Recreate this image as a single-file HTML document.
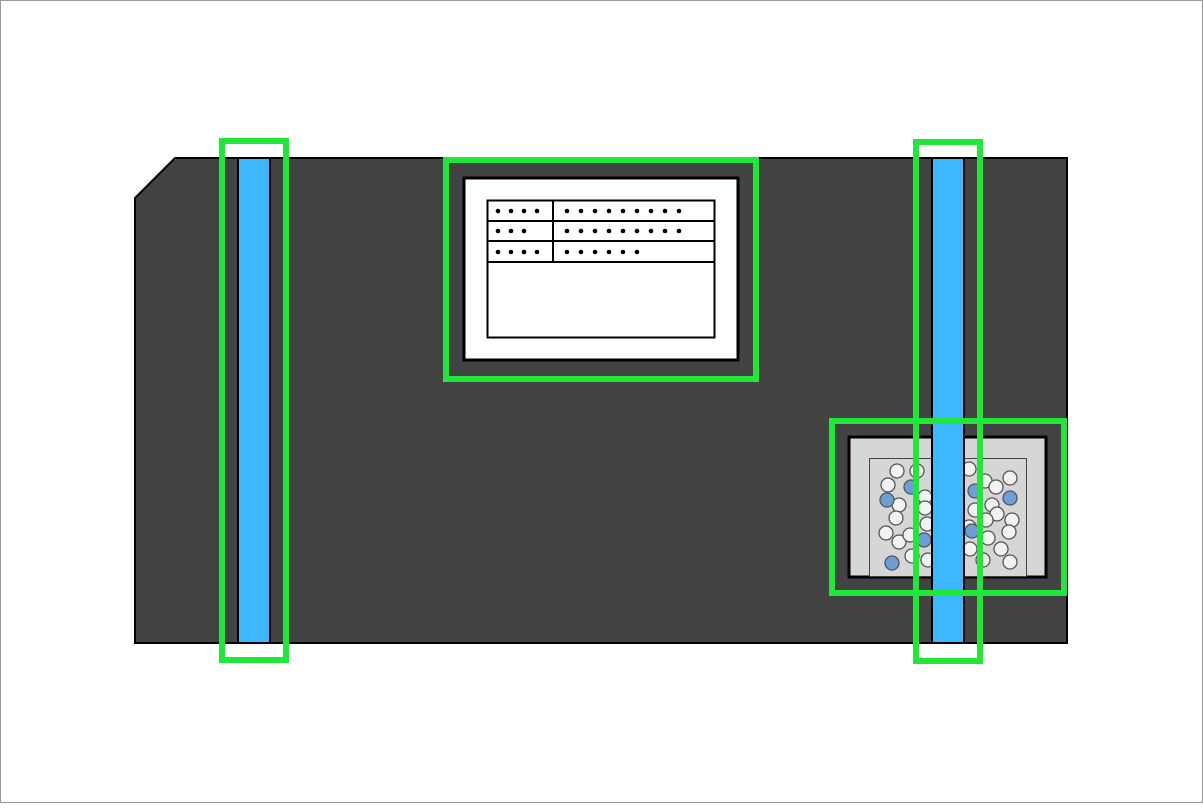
<!DOCTYPE html><html><head><style>body{margin:0;background:#fff}</style></head><body>
<svg width="1203" height="803" viewBox="0 0 1203 803" xmlns="http://www.w3.org/2000/svg">
<rect x="0.5" y="0.5" width="1202" height="802" fill="#fff" stroke="#999"/>
<path d="M175 158 H1067 V643 H135 V198 Z" fill="#434343" stroke="#000" stroke-width="2"/>
<rect x="238" y="158" width="32" height="485" fill="#3db8ff" stroke="#000" stroke-width="2"/>
<rect x="464" y="178" width="274" height="182" fill="#fff" stroke="#000" stroke-width="3"/>
<rect x="487.5" y="200.5" width="227" height="137" fill="#fff" stroke="#000" stroke-width="2"/>
<g stroke="#000" stroke-width="2"><line x1="487" y1="221" x2="714" y2="221"/><line x1="487" y1="241" x2="714" y2="241"/><line x1="487" y1="262" x2="714" y2="262"/><line x1="553" y1="200" x2="553" y2="262"/></g>
<g fill="#000">
<circle cx="498" cy="211" r="2.3"/><circle cx="511" cy="211" r="2.3"/><circle cx="524" cy="211" r="2.3"/><circle cx="537" cy="211" r="2.3"/>
<circle cx="498" cy="231" r="2.3"/><circle cx="511" cy="231" r="2.3"/><circle cx="524" cy="231" r="2.3"/>
<circle cx="498" cy="252" r="2.3"/><circle cx="511" cy="252" r="2.3"/><circle cx="524" cy="252" r="2.3"/><circle cx="537" cy="252" r="2.3"/>
<circle cx="567" cy="211" r="2.3"/><circle cx="581" cy="211" r="2.3"/><circle cx="595" cy="211" r="2.3"/><circle cx="609" cy="211" r="2.3"/><circle cx="623" cy="211" r="2.3"/><circle cx="637" cy="211" r="2.3"/><circle cx="651" cy="211" r="2.3"/><circle cx="665" cy="211" r="2.3"/><circle cx="679" cy="211" r="2.3"/>
<circle cx="567" cy="231" r="2.3"/><circle cx="581" cy="231" r="2.3"/><circle cx="595" cy="231" r="2.3"/><circle cx="609" cy="231" r="2.3"/><circle cx="623" cy="231" r="2.3"/><circle cx="637" cy="231" r="2.3"/><circle cx="651" cy="231" r="2.3"/><circle cx="665" cy="231" r="2.3"/><circle cx="679" cy="231" r="2.3"/>
<circle cx="567" cy="252" r="2.3"/><circle cx="581" cy="252" r="2.3"/><circle cx="595" cy="252" r="2.3"/><circle cx="609" cy="252" r="2.3"/><circle cx="623" cy="252" r="2.3"/><circle cx="637" cy="252" r="2.3"/>
</g>
<rect x="849" y="437" width="197" height="140" fill="#d6d6d6" stroke="#000" stroke-width="3"/>
<rect x="869.5" y="458.5" width="157" height="118" fill="#d6d6d6" stroke="#444" stroke-width="1"/>
<g stroke="#555" stroke-width="1.3" fill="#f2f2f2">
<circle cx="897" cy="471" r="7"/><circle cx="917" cy="471" r="7"/><circle cx="888" cy="485" r="7"/><circle cx="899" cy="505" r="7"/><circle cx="896" cy="518" r="7"/><circle cx="886" cy="533" r="7"/><circle cx="899" cy="542" r="7"/><circle cx="910" cy="535" r="7"/><circle cx="912" cy="556" r="7"/><circle cx="925" cy="497" r="7"/><circle cx="925" cy="508" r="7"/><circle cx="927" cy="524" r="7"/><circle cx="928" cy="560" r="7"/>
<circle cx="969" cy="469" r="7"/><circle cx="985" cy="481" r="7"/><circle cx="996" cy="487" r="7"/><circle cx="1010" cy="478" r="7"/><circle cx="975" cy="510" r="7"/><circle cx="992" cy="505" r="7"/><circle cx="997" cy="514" r="7"/><circle cx="986" cy="520" r="7"/><circle cx="1012" cy="520" r="7"/><circle cx="1009" cy="532" r="7"/><circle cx="988" cy="538" r="7"/><circle cx="970" cy="549" r="7"/><circle cx="1001" cy="549" r="7"/><circle cx="983" cy="560" r="7"/><circle cx="1010" cy="562" r="7"/><circle cx="969" cy="527" r="7"/>
</g>
<g stroke="#555" stroke-width="1.3" fill="#6a9fd8">
<circle cx="887" cy="500" r="7"/><circle cx="911" cy="487" r="7"/><circle cx="924" cy="540" r="7"/><circle cx="892" cy="563" r="7"/><circle cx="975" cy="491" r="7"/><circle cx="1010" cy="498" r="7"/><circle cx="972" cy="531" r="7"/>
</g>
<rect x="932" y="158" width="32" height="485" fill="#3db8ff" stroke="#000" stroke-width="2"/>
<g fill="none" stroke="#1fe83a" stroke-width="6">
<rect x="222" y="141" width="64" height="519"/>
<rect x="916" y="142" width="64" height="519"/>
<rect x="446" y="160" width="310" height="219"/>
<rect x="832" y="421" width="232" height="172"/>
</g>
</svg>
</body></html>
